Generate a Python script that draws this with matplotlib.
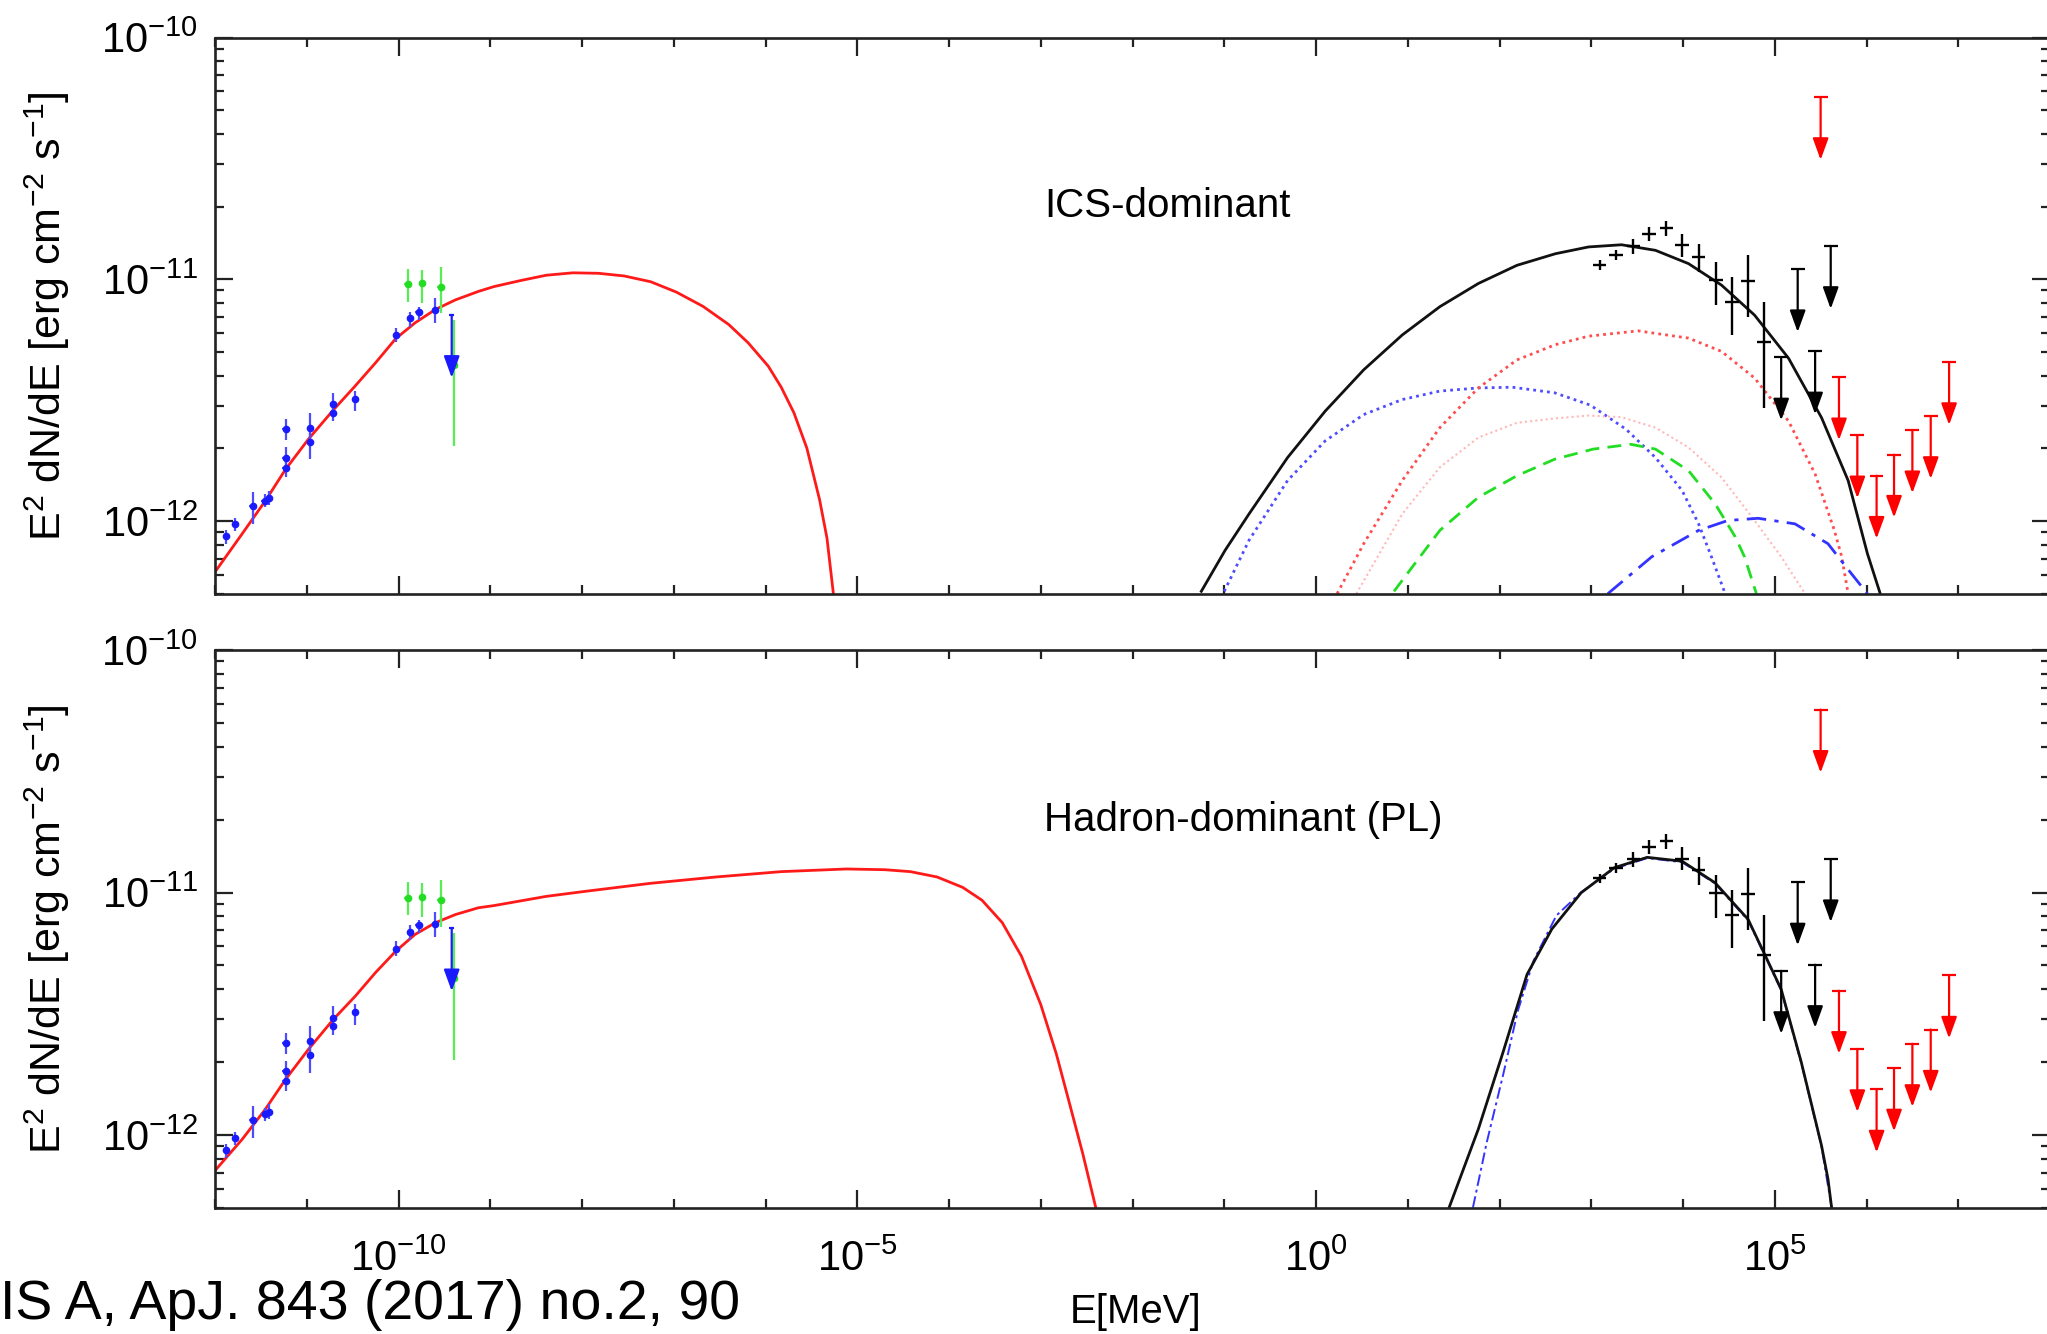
import numpy as np
import matplotlib
matplotlib.use('Agg')
import matplotlib.pyplot as plt
from matplotlib.ticker import FixedLocator, FuncFormatter, NullFormatter, LogLocator

plt.rcParams['font.family'] = ['Liberation Sans', 'DejaVu Sans']
plt.rcParams['mathtext.fontset'] = 'custom'
plt.rcParams['mathtext.rm'] = 'Liberation Sans'
plt.rcParams['mathtext.it'] = 'Liberation Sans:italic'
plt.rcParams['mathtext.bf'] = 'Liberation Sans:bold'

# --- data (log10 E [MeV], log10 E^2dN/dE [erg cm^-2 s^-1]) ---
# radio / X-ray points (blue)
blue_logE = [-11.88, -11.78, -11.59, -11.46, -11.41, -11.23, -11.23, -11.23,
             -10.96, -10.96, -10.71, -10.71, -10.47, -10.03, -9.87, -9.78, -9.60]
blue_logF = [-12.063, -12.013, -11.939, -11.915, -11.904, -11.620, -11.737, -11.778,
             -11.613, -11.671, -11.517, -11.551, -11.493, -11.232, -11.161, -11.136, -11.128]
blue_lo = [-12.094, -12.041, -12.011, -11.943, -11.935, -11.665, -11.778, -11.819,
           -11.661, -11.743, -11.552, -11.587, -11.545, -11.260, -11.195, -11.168, -11.182]
blue_hi = [-12.038, -11.986, -11.880, -11.888, -11.874, -11.579, -11.693, -11.750,
           -11.552, -11.634, -11.469, -11.525, -11.460, -11.200, -11.136, -11.113, -11.079]
blue_ul_logE = [-9.42]
blue_ul_logF = [-11.147]

# green points
green_logE = [-9.90, -9.74, -9.54, -9.39]
green_logF = [-11.021, -11.017, -11.031, -11.353]
green_lo = [-11.093, -11.099, -11.141, -11.689]
green_hi = [-10.958, -10.962, -10.949, -11.168]

# gamma-ray points (black)
gam_logE = [3.09, 3.27, 3.46, 3.63, 3.82, 3.99, 4.17, 4.36, 4.53, 4.71, 4.88]
gam_logF = [-10.942, -10.898, -10.862, -10.812, -10.788, -10.860, -10.908, -11.004,
            -11.093, -11.008, -11.257]
gam_lo = [-10.962, -10.918, -10.894, -10.843, -10.819, -10.908, -10.969, -11.106,
          -11.230, -11.154, -11.531]
gam_hi = [-10.922, -10.878, -10.832, -10.784, -10.757, -10.812, -10.853, -10.928,
          -10.990, -10.901, -11.093]
gam_ul_logE = [5.07, 5.25, 5.44, 5.61]
gam_ul_logF = [-11.323, -10.958, -11.298, -10.862]

# TeV upper limits (red)
tev_ul_logE = [5.50, 5.70, 5.90, 6.11, 6.30, 6.50, 6.70, 6.90]
tev_ul_logF = [-10.246, -11.405, -11.645, -11.812, -11.725, -11.624, -11.565, -11.342]

# ICS-dominant model
ics_sync_logE = [-12.0, -11.70, -11.45, -11.23, -10.98, -10.71, -10.47, -10.25, -10.03,
                 -9.82, -9.60, -9.38, -9.13, -8.96, -8.67, -8.39, -8.10, -7.82, -7.54,
                 -7.25, -6.97, -6.68, -6.40, -6.19, -5.97, -5.83, -5.69, -5.55, -5.41,
                 -5.33, -5.26]
ics_sync_logF = [-12.21, -12.05, -11.915, -11.785, -11.66, -11.54, -11.44, -11.345,
                 -11.245, -11.18, -11.125, -11.085, -11.05, -11.03, -11.005, -10.983,
                 -10.973, -10.975, -10.986, -11.010, -11.053, -11.112, -11.187, -11.262,
                 -11.359, -11.445, -11.552, -11.697, -11.912, -12.07, -12.30]
ics_tot_logE = [-1.25, -0.99, -0.73, -0.31, 0.10, 0.52, 0.94, 1.35, 1.77, 2.19, 2.61,
                2.97, 3.33, 3.70, 4.06, 4.42, 4.78, 5.15, 5.51, 5.80, 6.01, 6.15]
ics_tot_logF = [-12.29, -12.12, -11.97, -11.737, -11.545, -11.374, -11.23, -11.113,
                -11.017, -10.942, -10.894, -10.866, -10.857, -10.88, -10.935, -11.024,
                -11.148, -11.326, -11.572, -11.832, -12.134, -12.30]
ics_ic1_logE = [0.23, 0.52, 0.94, 1.35, 1.77, 2.19, 2.61, 2.97, 3.51, 4.06, 4.42, 4.78,
                5.15, 5.44, 5.65, 5.73, 5.80]
ics_ic1_logF = [-12.30, -12.093, -11.832, -11.613, -11.449, -11.333, -11.27, -11.235,
                -11.213, -11.243, -11.298, -11.408, -11.586, -11.805, -12.038, -12.147,
                -12.30]
ics_ic2_logE = [-1.00, -0.73, -0.31, 0.10, 0.52, 0.94, 1.35, 1.77, 2.14, 2.60, 2.99,
                3.38, 3.70, 3.99, 4.17, 4.31, 4.46]
ics_ic2_logF = [-12.29, -12.079, -11.832, -11.668, -11.559, -11.497, -11.462, -11.449,
                -11.446, -11.469, -11.52, -11.62, -11.737, -11.873, -12.011, -12.147,
                -12.30]
ics_ic3_logE = [0.44, 0.94, 1.35, 1.77, 2.19, 2.61, 2.97, 3.33, 3.70, 4.06, 4.42, 4.78,
                5.07, 5.33]
ics_ic3_logF = [-12.30, -11.97, -11.777, -11.654, -11.593, -11.575, -11.563, -11.57,
                -11.613, -11.695, -11.819, -11.997, -12.147, -12.30]
ics_brem_logE = [0.85, 1.35, 1.77, 2.19, 2.60, 3.02, 3.43, 3.70, 4.06, 4.35, 4.57, 4.67,
                 4.80]
ics_brem_logF = [-12.29, -12.038, -11.901, -11.812, -11.744, -11.702, -11.682, -11.702,
                 -11.791, -11.928, -12.065, -12.147, -12.30]
ics_pi0_logE = [3.18, 3.66, 4.17, 4.49, 4.82, 5.22, 5.58, 5.80, 6.01]
ics_pi0_logF = [-12.30, -12.147, -12.038, -11.997, -11.988, -12.011, -12.093, -12.20, -12.30]

# Hadron-dominant (PL) model
had_sync_logE = [-12.0, -11.70, -11.45, -11.23, -10.98, -10.71, -10.47, -10.25, -10.03,
                 -9.82, -9.60, -9.38, -9.13, -8.96, -8.39, -7.96, -7.25, -6.54, -5.83,
                 -5.12, -4.70, -4.42, -4.13, -3.85, -3.64, -3.42, -3.21, -3.00, -2.83,
                 -2.69, -2.54, -2.40]
had_sync_logF = [-12.147, -12.016, -11.893, -11.770, -11.646, -11.523, -11.427, -11.330,
                 -11.242, -11.173, -11.125, -11.091, -11.063, -11.054, -11.016, -10.995,
                 -10.962, -10.936, -10.914, -10.903, -10.906, -10.914, -10.936, -10.979,
                 -11.032, -11.124, -11.263, -11.462, -11.666, -11.865, -12.080, -12.30]
had_tot_logE = [1.45, 1.77, 2.04, 2.30, 2.57, 2.89, 3.25, 3.61, 3.99, 4.35, 4.71,
                5.07, 5.29, 5.51, 5.58, 5.62]
had_tot_logF = [-12.30, -11.975, -11.657, -11.338, -11.151, -11.001, -10.898, -10.855,
                -10.871, -10.960, -11.111, -11.399, -11.701, -12.044, -12.181, -12.30]
had_pi0_logE = [1.71, 1.86, 2.04, 2.20, 2.37, 2.62, 2.89, 3.25, 3.61, 3.99, 4.35, 4.71,
                5.07, 5.29, 5.51, 5.62]
had_pi0_logF = [-12.30, -12.032, -11.751, -11.488, -11.282, -11.095, -10.999, -10.902,
                -10.858, -10.875, -10.963, -11.115, -11.403, -11.705, -12.048, -12.30]

# --- style ---
FS_TICK = 30
FS_LABEL = 31
UL_DROP = 10 ** -0.26     # arrow length of upper limits
BIN_GAM = 10 ** 0.075
BIN_BLUE = 10 ** 0.035
SPINE = '#222222'


def p(a):
    return 10.0 ** np.asarray(a)


def upper_limits(ax, logE, logF, color, cap_dex):
    E, F = p(logE), p(logF)
    ax.errorbar(E, F, xerr=[E - E / 10 ** cap_dex, E * 10 ** cap_dex - E], fmt='none',
                ecolor=color, elinewidth=1.6, capsize=0)
    for e, f in zip(E, F):
        ax.annotate('', xy=(e, f * UL_DROP), xytext=(e, f),
                    arrowprops=dict(arrowstyle='-|>,head_length=1.1,head_width=0.4',
                                    color=color, lw=1.6, shrinkA=0, shrinkB=0,
                                    mutation_scale=12))


def data_points(ax):
    E, F = p(blue_logE), p(blue_logF)
    ax.errorbar(E, F, yerr=[F - p(blue_lo), p(blue_hi) - F],
                xerr=[E - E / BIN_BLUE, E * BIN_BLUE - E], fmt='o', ms=4.5,
                color='#1a1aff', ecolor='#4d4dff', elinewidth=1.6, capsize=0)
    E, F = p(green_logE), p(green_logF)
    ax.errorbar(E, F, yerr=[F - p(green_lo), p(green_hi) - F],
                xerr=[E - E / BIN_BLUE, E * BIN_BLUE - E], fmt='o', ms=4.5,
                color='#22dd22', ecolor='#55ee55', elinewidth=1.6, capsize=0)
    upper_limits(ax, blue_ul_logE, blue_ul_logF, '#1a1aff', 0.03)
    E, F = p(gam_logE), p(gam_logF)
    ax.errorbar(E, F, yerr=[F - p(gam_lo), p(gam_hi) - F],
                xerr=[E - E / BIN_GAM, E * BIN_GAM - E], fmt='none',
                ecolor='black', elinewidth=1.7, capsize=0)
    upper_limits(ax, gam_ul_logE, gam_ul_logF, 'black', 0.075)
    upper_limits(ax, tev_ul_logE, tev_ul_logF, '#ff0000', 0.075)


def sci(v, pos):
    return r'$10^{%d}$' % int(round(np.log10(v)))


def setup(ax, xlabels):
    ax.set_xscale('log')
    ax.set_yscale('log')
    ax.set_xlim(1e-12, 1e8)
    ax.set_ylim(5e-13, 1e-10)
    ax.xaxis.set_major_locator(FixedLocator([1e-10, 1e-5, 1e0, 1e5]))
    ax.xaxis.set_minor_locator(FixedLocator([10.0 ** k for k in range(-12, 9)]))
    ax.yaxis.set_major_locator(FixedLocator([1e-12, 1e-11, 1e-10]))
    ax.yaxis.set_minor_locator(LogLocator(base=10, subs=np.arange(2, 10), numticks=20))
    ax.yaxis.set_major_formatter(FuncFormatter(sci))
    ax.yaxis.set_minor_formatter(NullFormatter())
    ax.xaxis.set_minor_formatter(NullFormatter())
    if xlabels:
        ax.xaxis.set_major_formatter(FuncFormatter(sci))
    else:
        ax.xaxis.set_major_formatter(NullFormatter())
    ax.tick_params(which='both', direction='in', top=True, right=True,
                   color=SPINE, width=1.6, labelsize=FS_TICK)
    ax.tick_params(which='major', length=13, pad=12)
    ax.tick_params(which='minor', length=6.5)
    ax.tick_params(axis='x', which='major', pad=23)
    for s in ax.spines.values():
        s.set_linewidth(1.9)
        s.set_color(SPINE)
    ax.set_ylabel(r'E$^2$ dN/dE [erg cm$^{-2}$ s$^{-1}$]', fontsize=FS_LABEL)
    ax.yaxis.set_label_coords(-0.078, 0.5)


fig = plt.figure(figsize=(20.47, 13.34), dpi=100)
ax1 = fig.add_axes([215 / 2047, 1 - 594 / 1334, 1835 / 2047, 556.5 / 1334])
ax2 = fig.add_axes([215 / 2047, 1 - 1208 / 1334, 1835 / 2047, 558 / 1334])

# top panel: ICS-dominant
ax1.plot(p(ics_sync_logE), p(ics_sync_logF), color='#ff1a1a', lw=2.0)
ax1.plot(p(ics_ic2_logE), p(ics_ic2_logF), color='#4d4dff', lw=2.0, ls=(0, (1, 1.5)))
ax1.plot(p(ics_ic1_logE), p(ics_ic1_logF), color='#ff4d4d', lw=2.0, ls=(0, (1, 1.5)))
ax1.plot(p(ics_ic3_logE), p(ics_ic3_logF), color='#ffb8b8', lw=1.5, ls=(0, (1, 1.5)))
ax1.plot(p(ics_brem_logE), p(ics_brem_logF), color='#22dd22', lw=2.0, ls=(0, (5, 3)))
ax1.plot(p(ics_pi0_logE), p(ics_pi0_logF), color='#3333ff', lw=2.0, ls=(0, (7, 3, 1.5, 3)))
ax1.plot(p(ics_tot_logE), p(ics_tot_logF), color='#111111', lw=2.0)
data_points(ax1)
setup(ax1, False)
ax1.text(0.452, 0.697, 'ICS-dominant', transform=ax1.transAxes, fontsize=29,
         ha='left', va='center')

# bottom panel: Hadron-dominant (PL)
ax2.plot(p(had_sync_logE), p(had_sync_logF), color='#ff1a1a', lw=2.0)
ax2.plot(p(had_pi0_logE), p(had_pi0_logF), color='#3333ff', lw=1.4, ls=(0, (6, 2, 1.5, 2)))
ax2.plot(p(had_tot_logE), p(had_tot_logF), color='#111111', lw=2.0)
data_points(ax2)
setup(ax2, True)
ax2.text(0.452, 0.695, 'Hadron-dominant (PL)', transform=ax2.transAxes, fontsize=29,
         ha='left', va='center')

fig.text(1136 / 2047, 1 - 1312 / 1334, 'E[MeV]', fontsize=29, ha='center', va='center')
fig.text(0.0, 1 - 1305 / 1334, 'IS A, ApJ. 843 (2017) no.2, 90', fontsize=40,
         ha='left', va='center')

fig.savefig('out.png', dpi=100, facecolor='white')
